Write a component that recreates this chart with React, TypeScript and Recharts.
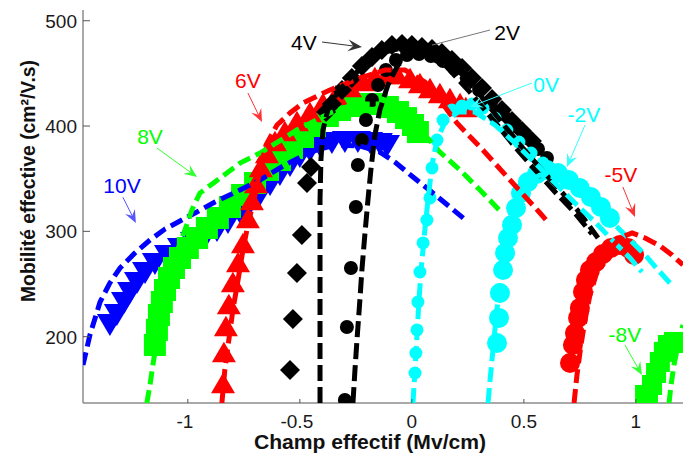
import React from 'react';
import { ComposedChart, Line, Scatter, XAxis, YAxis, ReferenceLine, ReferenceDot } from 'recharts';

type Pt = [number, number];

const X_TICKS = [-1, -0.5, 0, 0.5, 1];
const Y_TICKS = [200, 300, 400, 500];
const X_DOMAIN: [number, number] = [-1.468, 1.2103];
const Y_DOMAIN: [number, number] = [137.0, 510.2];

// ---- model curves (dashed) ----
const fit10V: Pt[] = [[-1.468,173.1],[-1.437,201.6],[-1.392,232.9],[-1.348,251.0],[-1.303,265.2],[-1.236,279.5],[-1.169,291.8],[-1.102,302.2],[-1.035,309.8],[-0.968,317.4],[-0.879,327.9],[-0.767,339.3],[-0.678,348.8],[-0.567,363.0],[-0.455,375.3],[-0.343,382.0],[-0.232,381.0],[-0.143,375.3],[-0.076,365.9],[0.005,351.6],[0.094,336.4],[0.170,323.1],[0.250,308.9]];
const fit8V: Pt[] = [[-1.183,137.0],[-1.169,154.1],[-1.156,173.1],[-1.138,196.9],[-1.120,220.6],[-1.102,241.5],[-1.080,260.5],[-1.049,280.4],[-1.013,301.3],[-0.982,320.3],[-0.946,336.4],[-0.879,346.9],[-0.767,364.9],[-0.678,374.4],[-0.513,396.2],[-0.366,412.4],[-0.254,420.9],[-0.143,420.9],[-0.031,410.5],[0.058,391.5],[0.125,375.3],[0.215,358.3],[0.304,339.3],[0.407,316.5]];
const fit6V: Pt[] = [[-0.848,137.0],[-0.835,168.4],[-0.817,196.9],[-0.799,225.3],[-0.776,253.8],[-0.754,282.3],[-0.732,306.1],[-0.700,334.5],[-0.678,358.3],[-0.651,382.0],[-0.602,401.0],[-0.544,412.4],[-0.486,421.9],[-0.366,434.2],[-0.232,445.6],[-0.120,453.2],[-0.031,453.2],[0.058,441.8],[0.125,424.7],[0.201,402.9],[0.317,377.2],[0.438,348.8],[0.572,317.4],[0.599,310.8]];
const fit4V: Pt[] = [[-0.410,137.0],[-0.410,187.4],[-0.410,234.8],[-0.410,282.3],[-0.410,329.8],[-0.406,367.7],[-0.397,396.2],[-0.375,415.2],[-0.334,431.4],[-0.276,445.6],[-0.210,457.9],[-0.120,470.3],[-0.031,475.0],[0.081,470.3],[0.192,453.2],[0.304,429.5],[0.393,405.7],[0.483,382.0],[0.572,360.2],[0.661,339.3],[0.750,317.4],[0.831,293.7]];
const fit2V: Pt[] = [[-0.263,137.0],[-0.254,168.4],[-0.245,196.9],[-0.232,234.8],[-0.223,263.3],[-0.210,296.6],[-0.196,329.8],[-0.183,358.3],[-0.165,391.5],[-0.143,415.2],[-0.107,439.0],[-0.062,457.9],[-0.008,467.4],[0.058,467.4],[0.148,457.9],[0.259,432.3],[0.371,403.8],[0.460,380.1],[0.550,358.3],[0.639,337.4],[0.728,317.4],[0.804,297.5]];
const fit0V: Pt[] = [[0.005,137.0],[0.014,168.4],[0.023,201.6],[0.032,234.8],[0.041,263.3],[0.058,301.3],[0.072,329.8],[0.090,363.0],[0.112,386.7],[0.148,403.8],[0.206,413.3],[0.282,413.3],[0.371,401.0],[0.460,383.9],[0.550,364.9],[0.639,345.9],[0.728,326.9],[0.817,308.9],[0.907,289.0],[0.974,274.7],[1.027,261.4]];
const fitM2V: Pt[] = [[0.340,137.0],[0.349,158.9],[0.362,187.4],[0.375,215.9],[0.389,244.3],[0.402,272.8],[0.420,296.6],[0.442,318.4],[0.474,334.5],[0.518,346.9],[0.572,353.5],[0.639,351.6],[0.706,344.0],[0.773,334.5],[0.840,322.2],[0.907,306.1],[0.974,291.8],[1.041,277.6],[1.099,263.3],[1.152,251.0]];
const fitM5V: Pt[] = [[0.724,137.0],[0.737,163.6],[0.755,192.1],[0.773,215.9],[0.795,239.6],[0.826,261.4],[0.871,279.5],[0.929,293.7],[0.983,298.5],[1.041,293.7],[1.108,286.1],[1.161,277.6],[1.210,268.1]];
const fitM8V: Pt[] = [[1.148,137.0],[1.157,154.1],[1.170,173.1],[1.188,192.1],[1.210,211.1]];

// ---- measured data (markers) ----
const data10V: Pt[] = [[-1.348,211.1],[-1.317,220.6],[-1.285,232.0],[-1.258,241.5],[-1.227,251.0],[-1.191,260.5],[-1.147,269.0],[-1.093,276.6],[-1.035,283.3],[-0.977,289.0],[-0.924,293.7],[-0.870,300.4],[-0.821,307.9],[-0.767,317.4],[-0.723,326.0],[-0.678,334.5],[-0.633,344.0],[-0.589,353.5],[-0.544,362.1],[-0.500,370.6],[-0.455,376.3],[-0.410,381.0],[-0.357,383.9],[-0.299,384.8],[-0.241,384.8],[-0.187,383.9],[-0.143,382.9],[-0.111,381.0]];
const data8V: Pt[] = [[-1.147,192.1],[-1.138,206.4],[-1.129,220.6],[-1.116,232.9],[-1.102,244.3],[-1.084,255.7],[-1.062,265.2],[-1.035,274.7],[-1.000,284.2],[-0.959,293.7],[-0.915,303.2],[-0.866,312.7],[-0.812,323.1],[-0.758,334.5],[-0.700,345.9],[-0.642,358.3],[-0.589,367.7],[-0.535,379.1],[-0.486,389.6],[-0.433,400.0],[-0.375,409.5],[-0.321,415.2],[-0.267,419.0],[-0.209,420.9],[-0.156,420.9],[-0.107,418.1],[-0.062,413.3],[-0.026,407.6],[0.005,401.0],[0.027,394.3]];
const data6V: Pt[] = [[-0.843,156.0],[-0.839,185.5],[-0.830,210.1],[-0.817,231.0],[-0.799,251.9],[-0.776,270.9],[-0.754,289.0],[-0.732,312.7],[-0.714,329.8],[-0.696,345.9],[-0.674,361.1],[-0.647,374.4],[-0.611,385.8],[-0.567,395.3],[-0.513,404.8],[-0.455,413.3],[-0.397,421.9],[-0.339,429.5],[-0.276,437.1],[-0.218,442.8],[-0.165,446.6],[-0.111,449.4],[-0.067,449.4],[-0.008,445.6],[0.036,440.9],[0.081,436.1],[0.125,431.4],[0.170,426.6],[0.215,421.9],[0.241,418.1]];
const data4V: Pt[] = [[-0.544,168.4],[-0.531,216.8],[-0.513,260.5],[-0.491,296.6],[-0.468,345.9],[-0.450,361.1],[-0.383,413.3],[-0.357,420.9],[-0.312,434.2],[-0.268,445.6],[-0.223,457.0],[-0.178,465.5],[-0.134,472.2],[-0.089,476.9],[-0.044,477.9],[0.000,476.9],[0.045,475.0],[0.090,473.1],[0.134,469.3],[0.179,462.7],[0.224,455.1],[0.268,445.6],[0.313,436.1],[0.358,425.7],[0.402,415.2],[0.447,404.8],[0.492,395.3],[0.536,385.8]];
const data2V: Pt[] = [[-0.299,139.9],[-0.290,209.2],[-0.272,265.2],[-0.250,323.1],[-0.241,363.0],[-0.223,386.7],[-0.205,405.7],[-0.178,424.7],[-0.151,439.0],[-0.116,453.2],[-0.071,462.7],[-0.022,467.4],[0.032,468.4],[0.085,466.5],[0.139,461.7],[0.192,454.1],[0.246,444.6],[0.300,434.2],[0.353,422.8],[0.407,411.4],[0.460,400.0],[0.514,388.6],[0.563,378.2],[0.603,369.6]];
const data0V: Pt[] = [[0.014,165.5],[0.018,184.5],[0.023,206.4],[0.027,232.9],[0.036,261.4],[0.050,289.0],[0.067,310.8],[0.081,331.7],[0.090,360.2],[0.112,386.7],[0.139,405.7],[0.179,415.2],[0.224,419.0],[0.268,420.9],[0.317,417.1],[0.371,407.6],[0.424,396.2],[0.478,384.8],[0.532,374.4],[0.585,364.9]];
const dataM2V: Pt[] = [[0.380,194.0],[0.389,217.8],[0.393,241.5],[0.407,263.3],[0.416,279.5],[0.429,293.7],[0.447,306.1],[0.465,322.2],[0.487,336.4],[0.518,346.9],[0.558,354.5],[0.603,358.3],[0.652,355.4],[0.701,348.8],[0.750,341.2],[0.799,332.6],[0.844,323.1],[0.884,312.7]];
const dataM5V: Pt[] = [[0.706,175.0],[0.719,192.1],[0.728,203.5],[0.742,217.8],[0.750,227.3],[0.764,242.5],[0.777,253.8],[0.795,263.3],[0.822,270.9],[0.853,278.5],[0.889,284.2],[0.929,287.1],[0.965,284.2],[0.992,277.6]];
const dataM8V: Pt[] = [[1.041,144.6],[1.054,144.6],[1.072,154.1],[1.090,165.5],[1.107,176.0],[1.125,185.5],[1.143,192.1],[1.170,195.0],[1.196,194.0]];

// ---- annotations ----
const annLabels = ['10V', '8V', '6V', '4V', '2V', '0V', '-2V', '-5V', '-8V'];
const annText: Pt[] = [[-1.294,336.4],[-1.169,382.9],[-0.732,436.1],[-0.482,472.2],[0.425,481.7],[0.599,432.3],[0.768,403.8],[0.933,346.9],[0.951,195.0]];
const annFrom: Pt[] = [[-1.290,332.4],[-1.138,379.1],[-0.732,431.4],[-0.401,479.8],[0.349,491.2],[0.536,440.9],[0.773,401.0],[0.942,342.1],[0.951,192.1]];
const annTo: Pt[] = [[-1.232,307.9],[-0.959,351.6],[-0.669,403.8],[-0.223,475.0],[0.090,476.9],[0.259,418.1],[0.692,361.1],[0.996,313.7],[1.027,163.6]];

const BLUE = '#0000ff';
const GREEN = '#00ff00';
const RED = '#ff0000';
const BLACK = '#000000';
const CYAN = '#00ffff';
const annColors = [BLUE, GREEN, RED, BLACK, BLACK, CYAN, CYAN, RED, GREEN];
const annLineColors = ['#5555ff', '#33ff33', '#ff3333', '#333333', '#777777', '#33ffff', '#33ffff', '#ff3333', '#33ff33'];
const annHead = [13, 13, 13, 14, 0, 13, 13, 13, 13];

const FONT = '"Liberation Sans", Arial, Helvetica, sans-serif';
const AXIS = '#8c8c8c';

const rows = (a: Pt[]) => a.map(([x, y]) => ({ x, y }));

const fits = [
  { id: 'f10', d: fit10V, c: BLUE, dash: '13 6' },
  { id: 'f8', d: fit8V, c: GREEN, dash: '13 6' },
  { id: 'f6', d: fit6V, c: RED, dash: '14 6' },
  { id: 'f4', d: fit4V, c: BLACK, dash: '16 6' },
  { id: 'f2', d: fit2V, c: BLACK, dash: '16 6' },
  { id: 'f0', d: fit0V, c: CYAN, dash: '15 6' },
  { id: 'fm2', d: fitM2V, c: CYAN, dash: '15 6' },
  { id: 'fm5', d: fitM5V, c: RED, dash: '14 6' },
  { id: 'fm8', d: fitM8V, c: GREEN, dash: '13 6' },
];

const marks = [
  { id: 'd10', d: data10V, c: BLUE, k: 'tDown', s: 26 },
  { id: 'd8', d: data8V, c: GREEN, k: 'square', s: 22 },
  { id: 'd6', d: data6V, c: RED, k: 'tUp', s: 24 },
  { id: 'd4', d: data4V, c: BLACK, k: 'diamond', s: 20 },
  { id: 'd2', d: data2V, c: BLACK, k: 'circle', s: 14 },
  { id: 'd0', d: data0V, c: CYAN, k: 'circle', s: 13 },
  { id: 'dm2', d: dataM2V, c: CYAN, k: 'circle', s: 20 },
  { id: 'dm5', d: dataM5V, c: RED, k: 'circle', s: 20 },
  { id: 'dm8', d: dataM8V, c: GREEN, k: 'square', s: 20 },
];

function markerShape(kind: string, s: number, color: string) {
  return (props: any) => {
    const { cx, cy } = props;
    if (cx == null || cy == null || isNaN(cx) || isNaN(cy)) return <g />;
    const h = s / 2;
    if (kind === 'tDown') {
      return <polygon points={`${cx - h},${cy - h * 0.85} ${cx + h},${cy - h * 0.85} ${cx},${cy + h * 0.85}`} fill={color} />;
    }
    if (kind === 'tUp') {
      return <polygon points={`${cx - h},${cy + h * 0.85} ${cx + h},${cy + h * 0.85} ${cx},${cy - h * 0.85}`} fill={color} />;
    }
    if (kind === 'square') {
      return <rect x={cx - h} y={cy - h} width={s} height={s} fill={color} />;
    }
    if (kind === 'diamond') {
      return <polygon points={`${cx},${cy - h} ${cx + h},${cy} ${cx},${cy + h} ${cx - h},${cy}`} fill={color} />;
    }
    return <circle cx={cx} cy={cy} r={h} fill={color} />;
  };
}

function arrowShape(color: string, head: number) {
  return (props: any) => {
    const { x1, y1, x2, y2 } = props;
    if ([x1, y1, x2, y2].some((v) => v == null || isNaN(v))) return <g />;
    const a = Math.atan2(y2 - y1, x2 - x1);
    const c = Math.cos(a);
    const s = Math.sin(a);
    if (head <= 0) {
      return <line x1={x1} y1={y1} x2={x2} y2={y2} stroke={color} strokeWidth={1} />;
    }
    const L = head;
    const W = head * 0.42;
    const bx = x2 - L * c;
    const by = y2 - L * s;
    const nx = x2 - L * 0.62 * c;
    const ny = y2 - L * 0.62 * s;
    const pts = `${x2},${y2} ${bx - W * s},${by + W * c} ${nx},${ny} ${bx + W * s},${by - W * c}`;
    return (
      <g>
        <line x1={x1} y1={y1} x2={nx} y2={ny} stroke={color} strokeWidth={1} />
        <polygon points={pts} fill={color} />
      </g>
    );
  };
}

function textShape(label: string, color: string) {
  return (props: any) => {
    const { cx, cy } = props;
    if (cx == null || cy == null) return <g />;
    return (
      <text x={cx} y={cy} textAnchor="middle" fontSize={21} fontFamily={FONT} fill={color}>
        {label}
      </text>
    );
  };
}

const XTick = (props: any) => {
  const { x, y, payload } = props;
  const v = payload.value as number;
  return (
    <g>
      <line x1={x} y1={y} x2={x} y2={y - 4} stroke="#555" strokeWidth={1} />
      <text x={x + (v < 0 ? -3 : 0)} y={y + 25} textAnchor="middle" fontSize={19} fontFamily={FONT} fill="#1a1a1a">
        {String(v)}
      </text>
    </g>
  );
};

const TopTick = (props: any) => {
  const { x, y } = props;
  return <line x1={x} y1={y} x2={x} y2={y + 4} stroke="#555" strokeWidth={1} />;
};

const YTick = (props: any) => {
  const { x, y, payload } = props;
  return (
    <g>
      <line x1={x} y1={y} x2={x + 7} y2={y} stroke="#555" strokeWidth={1} />
      <text x={x - 6} y={y + 7} textAnchor="end" fontSize={19} fontFamily={FONT} fill="#1a1a1a">
        {String(payload.value)}
      </text>
    </g>
  );
};

export default function App() {
  return (
    <div style={{ position: 'absolute', left: 0, top: 0, width: 683, height: 457, background: '#fff' }}>
      <ComposedChart width={683} height={457} margin={{ top: 10, right: 0, bottom: 0, left: 0 }}>
        <XAxis
          type="number"
          dataKey="x"
          domain={X_DOMAIN}
          ticks={X_TICKS}
          allowDataOverflow
          interval={0}
          height={54}
          tickSize={0}
          tickMargin={0}
          tickLine={false}
          axisLine={{ stroke: AXIS, strokeWidth: 1.5 }}
          tick={<XTick />}
        />
        <XAxis
          xAxisId="top"
          orientation="top"
          type="number"
          dataKey="x"
          domain={X_DOMAIN}
          ticks={X_TICKS}
          allowDataOverflow
          interval={0}
          height={0}
          tickSize={0}
          tickMargin={0}
          tickLine={false}
          axisLine={{ stroke: AXIS, strokeWidth: 1.5 }}
          tick={<TopTick />}
        />
        <YAxis
          type="number"
          dataKey="y"
          domain={Y_DOMAIN}
          ticks={Y_TICKS}
          allowDataOverflow
          interval={0}
          width={83}
          tickSize={0}
          tickMargin={0}
          tickLine={false}
          axisLine={{ stroke: AXIS, strokeWidth: 1.5 }}
          tick={<YTick />}
        />
        {marks.map((m) => (
          <Scatter
            key={m.id}
            name={m.id}
            data={rows(m.d)}
            dataKey="y"
            fill={m.c}
            shape={markerShape(m.k, m.s, m.c)}
            isAnimationActive={false}
            zIndex={600}
          />
        ))}
        {fits.map((f) => (
          <Line
            key={f.id}
            name={f.id}
            data={rows(f.d)}
            dataKey="y"
            type="linear"
            stroke={f.c}
            strokeWidth={5}
            strokeDasharray={f.dash}
            dot={false}
            activeDot={false}
            isAnimationActive={false}
            zIndex={700}
          />
        ))}
        {annLabels.map((lab, i) => (
          <ReferenceLine
            key={'a' + i}
            segment={[
              { x: annFrom[i][0], y: annFrom[i][1] },
              { x: annTo[i][0], y: annTo[i][1] },
            ]}
            ifOverflow="visible"
            shape={arrowShape(annLineColors[i], annHead[i])}
            zIndex={2000}
          />
        ))}
        {annLabels.map((lab, i) => (
          <ReferenceDot
            key={'t' + i}
            x={annText[i][0]}
            y={annText[i][1]}
            r={0}
            ifOverflow="visible"
            shape={textShape(lab, annColors[i])}
            zIndex={2000}
          />
        ))}
      </ComposedChart>
      <svg
        width={683}
        height={457}
        style={{ position: 'absolute', left: 0, top: 0, pointerEvents: 'none' }}
      >
        <text
          transform="translate(35,181) rotate(-90)"
          textAnchor="middle"
          fontSize={20}
          fontWeight="bold"
          fontFamily={FONT}
          fill="#111"
          textLength={242}
          lengthAdjust="spacingAndGlyphs"
        >
          Mobilité effective (cm²/V.s)
        </text>
        <text
          x={370}
          y={449}
          textAnchor="middle"
          fontSize={20}
          fontWeight="bold"
          fontFamily={FONT}
          fill="#111"
          textLength={232}
          lengthAdjust="spacingAndGlyphs"
        >
          Champ effectif (Mv/cm)
        </text>
      </svg>
    </div>
  );
}
